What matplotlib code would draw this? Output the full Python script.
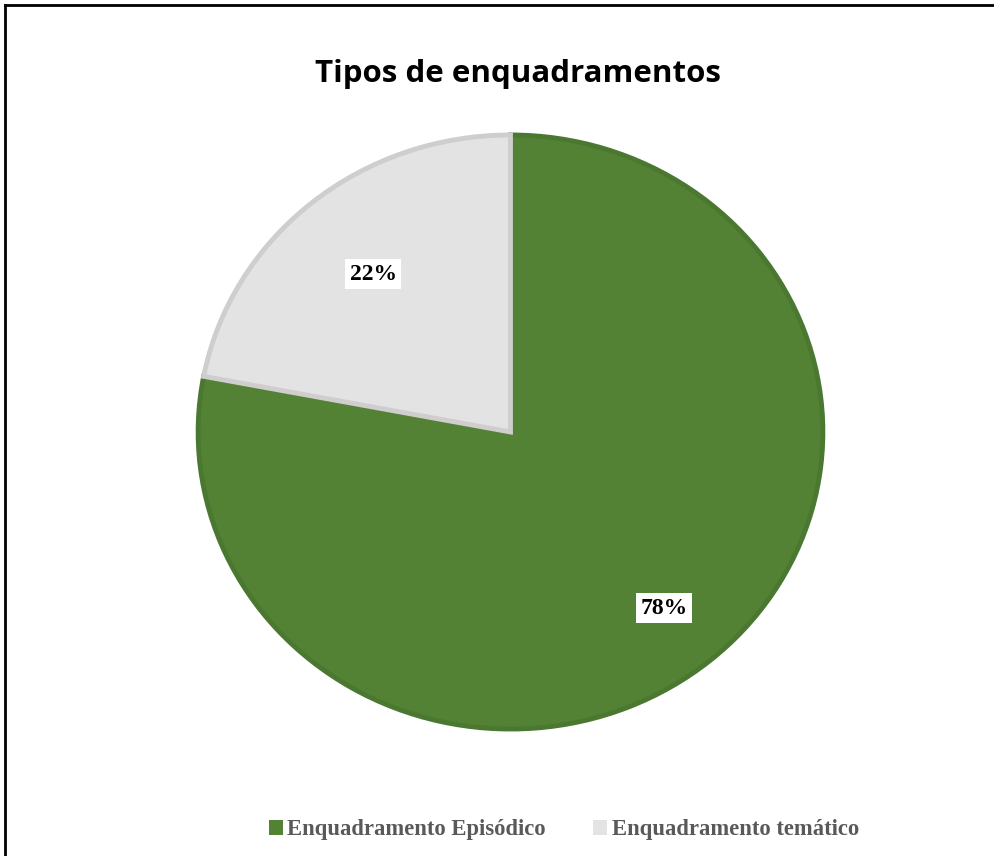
import matplotlib
matplotlib.use("Agg")
import numpy as np
import matplotlib.pyplot as plt
from matplotlib.lines import Line2D
from matplotlib.patches import Patch

# data
categories = ["Enquadramento Episódico", "Enquadramento temático"]
shares = [78, 22]
face_colors = ["#548235", "#e3e3e3"]
edge_colors = ["#4b7830", "#cfcdcd"]
title = "Tipos de enquadramentos"
label_radius = [0.77, 0.69]  # where the % labels sit inside each wedge

fig = plt.figure(figsize=(9.95, 8.56), dpi=100)

# pie area (slightly wider than tall, like the source)
ax = fig.add_axes([195 / 995, (856 - 732) / 856, 631 / 995, 600 / 856])
wedges, texts, autotexts = ax.pie(
    shares,
    colors=face_colors,
    startangle=90,
    counterclock=False,
    autopct="%d%%",
    wedgeprops=dict(linewidth=3.5),
    textprops=dict(family="Liberation Serif", fontweight="bold", fontsize=17),
)
for w, ec, t, r in zip(wedges, edge_colors, autotexts, label_radius):
    w.set_edgecolor(ec)
    w.set_joinstyle("miter")
    mid = np.deg2rad((w.theta1 + w.theta2) / 2)
    t.set_position((r * np.cos(mid), r * np.sin(mid)))
    t.set_bbox(dict(facecolor="white", edgecolor="none", pad=3))
ax.set_xlim(-1.01, 1.01)
ax.set_ylim(-1.01, 1.01)
ax.set_aspect("auto")
ax.axis("off")

fig.text(518 / 995, 1 - 74 / 856, title, ha="center", va="center",
         family="Open Sans", fontweight="bold", fontsize=22.5)

# legend
handles = [Patch(facecolor=c, edgecolor="none") for c in face_colors]
fig.legend(handles, categories, loc="center", bbox_to_anchor=(564 / 995, 1 - 830 / 856),
           ncol=2, frameon=False, handlelength=0.6, handleheight=0.6,
           handletextpad=0.2, columnspacing=2.1,
           prop=dict(family="Liberation Serif", weight="bold", size=16.3),
           labelcolor="#595959")

# frame lines (top and left, image is cropped on the other sides)
fig.add_artist(Line2D([5 / 995, 5 / 995], [0, 1 - 5 / 856], transform=fig.transFigure,
                      color="black", linewidth=2))
fig.add_artist(Line2D([5 / 995, 1], [1 - 5 / 856, 1 - 5 / 856], transform=fig.transFigure,
                      color="black", linewidth=2))

fig.savefig("out.png", dpi=100)
